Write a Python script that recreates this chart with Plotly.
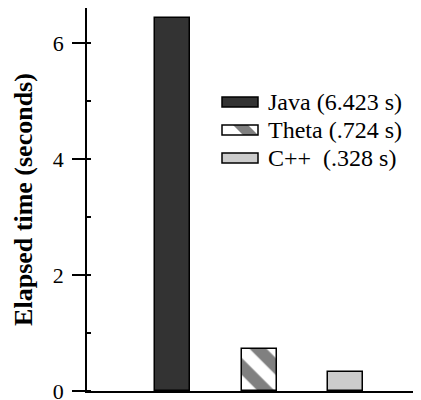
import plotly.graph_objects as go

# ---- data ----
languages = ["Java", "Theta", "C++"]
elapsed = [6.423, 0.724, 0.328]
legend_labels = ["Java (6.423 s)", "Theta (.724 s)", "C++\u00a0\u00a0(.328 s)"]
y_ticks = [0, 2, 4, 6]

fills = ["#333333", "#ffffff", "#cccccc"]
patterns = [dict(shape=""), dict(shape="\\", fgcolor="#808080", bgcolor="#ffffff",
                                 size=24, solidity=0.5, fillmode="replace"),
            dict(shape="")]

SERIF = "Liberation Serif, Times New Roman, Times, serif"
# page has an 8px default body margin; compensate so the chart lands at the right spot
OFF = 8
W, H = 421 - OFF, 400 - OFF
ML, MR, MT, MB = 87 - OFF, 0, 0, 9

fig = go.Figure()
for i, (lang, val) in enumerate(zip(languages, elapsed)):
    fig.add_trace(go.Bar(
        x=[i], y=[val], width=0.405, name=lang,
        marker=dict(color=fills[i], line=dict(color="black", width=1.5),
                    pattern=patterns[i]),
        showlegend=False,
    ))

# custom legend (page pixel -> paper helpers)
pw, ph = W - ML - MR, H - MT - MB
def px(x):
    return (x - OFF - ML) / pw
def py(y):
    return 1 - (y - OFF - MT) / ph

rows = [102, 130, 158]
sx0, sx1 = 222, 258
for i, (lab, yc) in enumerate(zip(legend_labels, rows)):
    y0, y1 = yc - 5, yc + 5
    if i == 1:
        fig.add_shape(type="rect", xref="paper", yref="paper",
                      x0=px(sx0), x1=px(sx1), y0=py(y1), y1=py(y0),
                      fillcolor="white", line=dict(width=0))
        path = (f"M {px(233)},{py(y0)} L {px(248)},{py(y0)} "
                f"L {px(258)},{py(y1)} L {px(243)},{py(y1)} Z")
        fig.add_shape(type="path", xref="paper", yref="paper", path=path,
                      fillcolor="#808080", line=dict(width=0))
        fig.add_shape(type="rect", xref="paper", yref="paper",
                      x0=px(sx0), x1=px(sx1), y0=py(y1), y1=py(y0),
                      fillcolor="rgba(0,0,0,0)", line=dict(color="black", width=1.5))
    else:
        fig.add_shape(type="rect", xref="paper", yref="paper",
                      x0=px(sx0), x1=px(sx1), y0=py(y1), y1=py(y0),
                      fillcolor=fills[i], line=dict(color="black", width=1.5))
    fig.add_annotation(text=lab, xref="paper", yref="paper", x=px(266), y=py(yc),
                       xanchor="left", yanchor="middle", showarrow=False,
                       font=dict(family=SERIF, size=24, color="black"))

fig.update_layout(
    width=W, height=H,
    margin=dict(l=ML, r=MR, t=MT, b=MB),
    paper_bgcolor="white", plot_bgcolor="white",
    font=dict(family=SERIF, color="black"),
    bargap=0,
)
fig.update_xaxes(range=[-0.995, 2.87], showline=True, linecolor="black", linewidth=1.5,
                 showticklabels=False, ticks="", showgrid=False, zeroline=False,
                 automargin=False)
fig.update_yaxes(range=[0, 6.603], tickvals=y_ticks, ticks="outside", ticklen=13,
                 tickwidth=1.5, tickcolor="black",
                 showline=True, linecolor="black", linewidth=1.5,
                 showgrid=False, zeroline=False, automargin=False,
                 tickfont=dict(family=SERIF, size=22, color="black"),
                 ticklabelstandoff=4, ticklabeloverflow="allow",
                 minor=dict(dtick=1, tick0=0, ticks="inside", ticklen=4, tickwidth=1.5,
                            tickcolor="black", showgrid=False),
                 title=dict(text="<b>Elapsed time (seconds)</b>", standoff=13,
                            font=dict(family=SERIF, size=26, color="black")))

fig.write_html("out.html")
